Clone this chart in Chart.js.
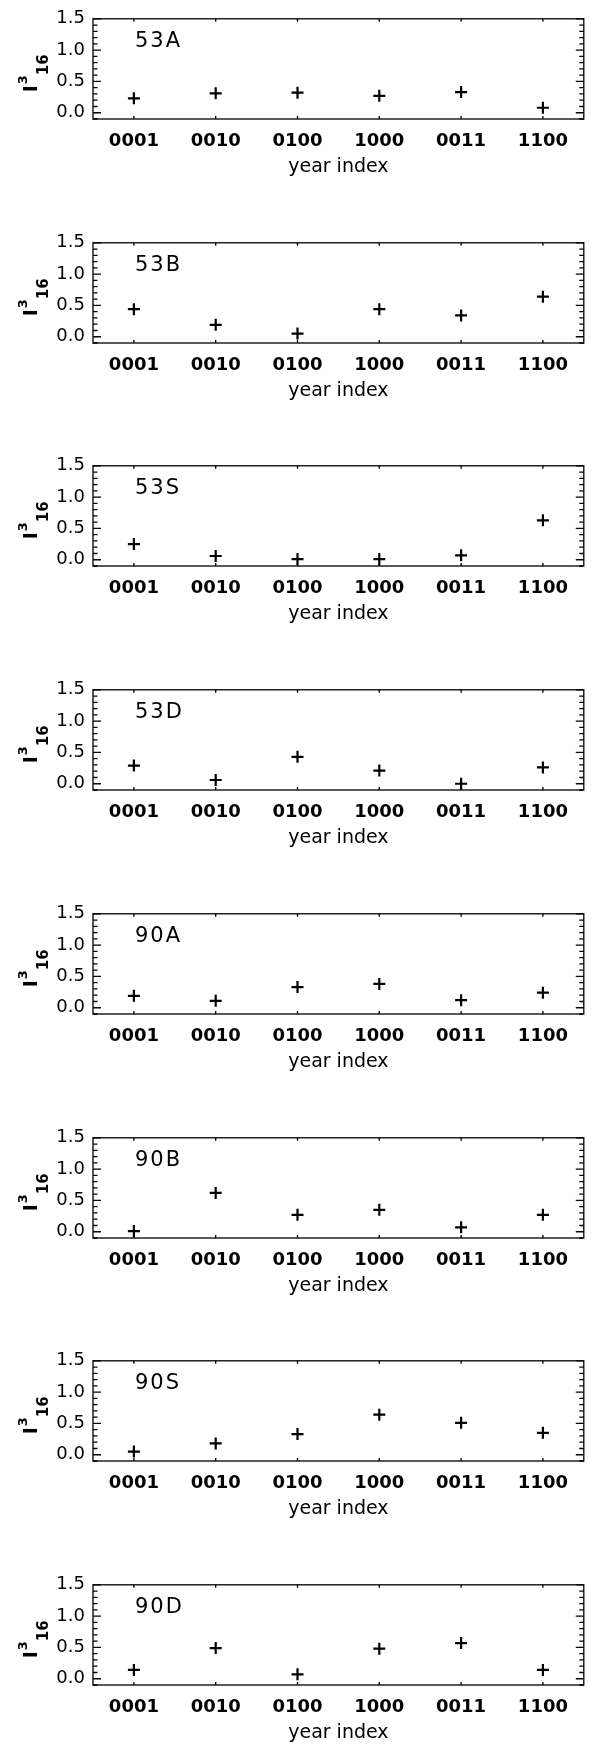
<!DOCTYPE html>
<html>
<head>
<meta charset="utf-8">
<script src="https://cdn.jsdelivr.net/npm/chart.js@4.4.1/dist/chart.umd.min.js"></script>
<style>
  html, body { margin: 0; padding: 0; background: #fff; }
  #wrap { position: relative; width: 592px; height: 1744px; }
  #wrap canvas { position: absolute; left: 0; }
</style>
</head>
<body>
<div id="wrap"></div>
<script>
const yearIndex = ["0001", "0010", "0100", "1000", "0011", "1100"];
const yTicks = [0, 0.5, 1.0, 1.5];
const panelNames = ["53A", "53B", "53S", "53D", "90A", "90B", "90S", "90D"];

const val53A = [0.23, 0.31, 0.32, 0.27, 0.33, 0.08];
const val53B = [0.44, 0.19, 0.05, 0.44, 0.34, 0.64];
const val53S = [0.25, 0.06, 0.01, 0.01, 0.07, 0.63];
const val53D = [0.29, 0.06, 0.43, 0.21, 0.00, 0.26];
const val90A = [0.19, 0.11, 0.33, 0.38, 0.12, 0.24];
const val90B = [0.01, 0.62, 0.27, 0.35, 0.07, 0.27];
const val90S = [0.05, 0.18, 0.33, 0.64, 0.51, 0.35];
const val90D = [0.14, 0.49, 0.07, 0.48, 0.57, 0.14];
const panelValues = [val53A, val53B, val53S, val53D, val90A, val90B, val90S, val90D];

const FONT = "'DejaVu Sans', sans-serif";
const PANEL_STEP = 223.7;
const CANVAS_H = 178;

// frame, IDL-style minor ticks, panel name and the I^3_16 axis title
const frameMarks = {
  id: "frameMarks",
  afterDraw(chart, args, opts) {
    const { ctx, chartArea: a, scales: { x, y } } = chart;
    ctx.save();
    ctx.strokeStyle = "#000";
    ctx.lineWidth = 1.3;
    ctx.strokeRect(a.left, a.top, a.right - a.left, a.bottom - a.top);

    ctx.beginPath();
    for (let i = -1; i <= 15; i++) {
      const py = y.getPixelForValue(i / 10);
      const len = i % 5 === 0 ? 8 : 4.5;
      ctx.moveTo(a.left, py); ctx.lineTo(a.left + len, py);
      ctx.moveTo(a.right, py); ctx.lineTo(a.right - len, py);
    }
    yearIndex.forEach((_, i) => {
      const px = x.getPixelForValue(i);
      ctx.moveTo(px, a.top); ctx.lineTo(px, a.top + 3);
      ctx.moveTo(px, a.bottom); ctx.lineTo(px, a.bottom - 3);
    });
    ctx.stroke();

    ctx.fillStyle = "#000";
    ctx.textAlign = "left";
    ctx.textBaseline = "alphabetic";
    ctx.font = "21px " + FONT;
    ctx.letterSpacing = "2px";
    ctx.fillText(opts.name, a.left + 42, a.top + 28);
    ctx.letterSpacing = "0px";

    // rotated title: I, superscript 3, subscript 16
    ctx.translate(37, a.top + 55);
    ctx.rotate(-Math.PI / 2);
    const fMain = "bold 19px " + FONT, fSup = "bold 13px " + FONT, fSub = "bold 15px " + FONT;
    ctx.font = fMain; const wI = ctx.measureText("I").width;
    ctx.font = fSup; const w3 = ctx.measureText("3").width;
    ctx.font = fSub; const w16 = ctx.measureText("16").width;
    let x0 = -(wI + w3 + w16) / 2;
    ctx.font = fMain; ctx.fillText("I", x0, 0);
    ctx.font = fSup; ctx.fillText("3", x0 + wI + 1, -10);
    ctx.font = fSub; ctx.fillText("16", x0 + wI + w3 + 1, 11);
    ctx.restore();
  }
};

function makePanel(k) {
  const canvas = document.createElement("canvas");
  canvas.width = 592;
  canvas.height = CANVAS_H;
  canvas.style.top = Math.round(PANEL_STEP * k) + "px";
  document.getElementById("wrap").appendChild(canvas);

  return new Chart(canvas, {
    type: "line",
    data: {
      labels: yearIndex,
      datasets: [{
        data: panelValues[k],
        showLine: false,
        pointStyle: "cross",
        pointRadius: 6,
        pointBorderWidth: 2.2,
        pointBorderColor: "#000",
        borderColor: "#000",
        clip: false,
      }],
    },
    options: {
      responsive: false,
      animation: false,
      events: [],
      layout: { padding: { top: 12, right: 4, left: 0, bottom: 0 } },
      plugins: {
        legend: { display: false },
        tooltip: { enabled: false },
        frameMarks: { name: panelNames[k] },
      },
      scales: {
        x: {
          type: "category",
          offset: true,
          grid: { display: false, drawTicks: false },
          border: { display: false },
          ticks: {
            color: "#000",
            font: { family: FONT, size: 18, weight: "bold" },
            padding: 12,
            maxRotation: 0,
            autoSkip: false,
          },
          title: {
            display: true,
            text: "year index",
            color: "#000",
            font: { family: FONT, size: 19 },
            padding: 0,
          },
          afterFit: s => { s.height = 59; },
        },
        y: {
          min: -0.1,
          max: 1.5,
          afterBuildTicks: s => { s.ticks = yTicks.map(v => ({ value: v })); },
          grid: { display: false, drawTicks: false },
          border: { display: false },
          ticks: {
            color: "#000",
            font: { family: FONT, size: 18 },
            padding: 8,
            callback: v => v.toFixed(1),
          },
          afterFit: s => { s.width = 93; },
        },
      },
    },
    plugins: [frameMarks],
  });
}

document.addEventListener("DOMContentLoaded", () => {
  panelNames.forEach((_, k) => makePanel(k));
});
</script>
</body>
</html>
